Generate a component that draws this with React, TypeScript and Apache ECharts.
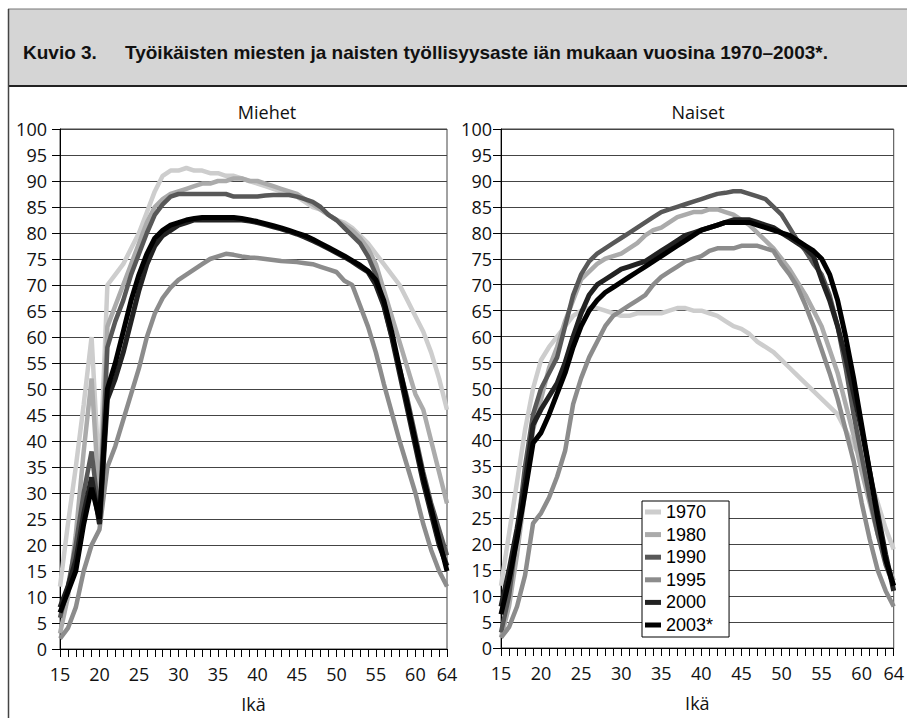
import React, { useEffect, useRef } from "react";
import * as echarts from "echarts";

const ages = [
  "15","16","17","18","19","20","21","22","23","24",
  "25","26","27","28","29","30","31","32","33","34",
  "35","36","37","38","39","40","41","42","43","44",
  "45","46","47","48","49","50","51","52","53","54",
  "55","56","57","58","59","60","61","62","63","64",
];
const years = ["1970", "1980", "1990", "1995", "2000", "2003*"];
const yTicks = [0, 100, 5];

// Miehet (men)
const men1970 = [12,24,35,47,60,32,70,72,74,77, 80,84,88,91,92,92,92.5,92,92,91.5, 91.5,91,91,90.5,90,89.5,89,88.5,88,87.5, 87,86,85,84.5,83.5,82.5,82,81,79.5,78, 76,74,72,70,67,64,61,57,52,46];
const men1980 = [3,10,22,38,52,28,62,66,70,74, 78,82,85,86.5,87.5,88,88.5,89,89.5,89.5, 90,90,90.5,90.5,90,90,89.5,89,88.5,88, 87.5,86.5,85.5,84.5,83.5,82.5,81.5,80.5,79,77, 74,69,64,59,54,49,46,40,34,28];
const men1990 = [6,12,20,30,38,25,58,63,67,72, 76,80,83.5,85.5,87,87.5,87.5,87.5,87.5,87.5, 87.5,87.5,87,87,87,87,87.2,87.3,87.3,87.3, 87,86.5,86,85,83.5,82.5,81,79.5,78,75.5, 72,66,60,54,48,41,34,28,23,18];
const men1995 = [2,4,8,15,20,23,35,39,44,49, 54,60,64.5,67.5,69.5,71,72,73,74,75, 75.5,76,75.8,75.5,75.3,75.2,75,74.8,74.6,74.5, 74.4,74.2,74,73.5,73,72.5,70.8,70,66,62, 57,51,45.5,40,35,30,24,19,15,12];
const men2000 = [8,12,17,26,33,24,48,52,57,63, 69,74,77.5,79.5,80.5,81.5,82,82.5,82.5,82.5, 82.5,82.5,82.5,82.5,82.3,82,81.6,81.2,80.8,80.3, 79.8,79.2,78.5,77.8,77,76.2,75.4,74.5,73.5,72.5, 70,66,60,53,46,39,32,26,20,16];
const men2003 = [7,11,15,24,31,25,50,55,61,67, 72,76,79,80.5,81.5,82,82.5,82.8,83,83, 83,83,83,82.8,82.5,82.2,81.8,81.4,81,80.5, 80,79.5,78.8,78,77.2,76.4,75.6,74.7,73.8,72.7, 71,67,61,54,47,40,33,27,21,15];

// Naiset (women)
const women1970 = [12,22,32,42,50,55.5,58,60,62,64, 65,65.5,65.5,65,64.5,64,64,64.5,64.5,64.5, 64.5,65,65.5,65.5,65,65,64.5,64,63,62, 61.5,60.5,59,58,57,55.5,54,52.5,51,49.5, 48,46.5,45,42,39,36.5,33,28,23,19];
const women1980 = [2,8,18,30,42,48,54,58,63,67, 71,72.5,74,75,75.5,76,77,78,79.5,80.5, 81,82,83,83.5,84,84,84.5,84.5,84,83.5, 82.5,81.5,80,78.5,77,75,73,70.5,68,65, 62,57.5,53,47,41,34,28,22,17,13];
const women1990 = [3,10,22,35,45,50,53,56,62,68, 72,74.5,76,77,78,79,80,81,82,83, 84,84.5,85,85.5,86,86.5,87,87.5,87.7,88, 88,87.5,87,86.5,85,83.5,81,78.5,76.5,74, 72,68,62,54,45,37,29,22,16,12];
const women1995 = [2,4,8,14,24,26,29,33,38,47, 52,56,59,62,64,65,66,67,68,70, 71.5,72.5,73.5,74.5,75,75.5,76.5,77,77,77, 77.5,77.5,77.5,77,76.5,74,72,69.5,66,62, 57.5,53,48,42,36,28,21,15,11,8];
const women2000 = [8,15,23,32,43,46,48.5,51,55,60, 64.5,68,70,71,72,73,73.5,74,74.5,75.5, 76.5,77.5,78.5,79.5,80,80.5,81,81.5,82,82.5, 82.5,82.5,82,81.5,81,80,79,78,77,75.5, 71,67,62,56,49,42,34,26,18,11];
const women2003 = [6.5,13,21,30,39.5,41.5,45,49,53,58, 62,65,67,68.5,69.5,70.5,71.5,72.5,73.5,74.5, 75.5,76.5,77.5,78.5,79.5,80.5,81,81.5,82,82, 82,82,81.5,81,80.5,80,79.5,78.5,77.5,76.5, 75,72,67,60,52,43,34,25,17,12];

const menData = [men1970, men1980, men1990, men1995, men2000, men2003];
const womenData = [women1970, women1980, women1990, women1995, women2000, women2003];

const colors = ["#cdcdcd", "#ababab", "#585858", "#8c8c8c", "#222222", "#000000"];
const widths = [4.5, 4.5, 4.5, 4.5, 5, 5];

const tickFont = "Open Sans";

function makeXAxis(gridIndex: number) {
  return {
    type: "category",
    gridIndex,
    data: ages,
    boundaryGap: false,
    name: "Ikä",
    nameLocation: "middle",
    nameGap: 46,
    nameTextStyle: { fontFamily: tickFont, fontSize: 18, color: "#111" },
    axisLine: { lineStyle: { color: "#000", width: 1 } },
    axisTick: { interval: 0, length: 8, lineStyle: { color: "#000" } },
    axisLabel: {
      interval: (_i: number, v: string) => Number(v) % 5 === 0 || v === "64",
      margin: 16,
      fontFamily: tickFont,
      fontSize: 18,
      color: "#111",
    },
    splitLine: { show: false },
  };
}

function makeYAxis(gridIndex: number, margin: number) {
  return {
    type: "value",
    gridIndex,
    min: yTicks[0],
    max: yTicks[1],
    interval: yTicks[2],
    axisLine: { show: true, lineStyle: { color: "#000", width: 1 } },
    axisTick: { show: true, length: 8, lineStyle: { color: "#000" } },
    axisLabel: { margin, fontFamily: tickFont, fontSize: 18, color: "#111" },
    splitLine: { lineStyle: { color: "#444", width: 1 } },
  };
}

export default function App() {
  const ref = useRef<HTMLDivElement>(null);
  useEffect(() => {
    if (!ref.current) return;
    const chart = echarts.init(ref.current, undefined, { renderer: "svg" });
    const series: any[] = [];
    years.forEach((y, i) => {
      series.push({
        name: y,
        type: "line",
        xAxisIndex: 0,
        yAxisIndex: 0,
        data: menData[i],
        showSymbol: false,
        color: colors[i],
        lineStyle: { color: colors[i], width: widths[i] },
      });
    });
    years.forEach((y, i) => {
      series.push({
        name: y,
        type: "line",
        xAxisIndex: 1,
        yAxisIndex: 1,
        data: womenData[i],
        showSymbol: false,
        color: colors[i],
        lineStyle: { color: colors[i], width: widths[i] },
      });
    });
    chart.setOption({
      animation: false,
      backgroundColor: "#fff",
      title: [
        {
          text: "Miehet",
          left: 262,
          top: 98,
          textAlign: "center",
          textStyle: { fontFamily: tickFont, fontSize: 18, fontWeight: "normal", color: "#111" },
        },
        {
          text: "Naiset",
          left: 693,
          top: 98,
          textAlign: "center",
          textStyle: { fontFamily: tickFont, fontSize: 18, fontWeight: "normal", color: "#111" },
        },
      ],
      grid: [
        { left: 60, top: 129, width: 387, height: 521, show: true, borderColor: "#444", borderWidth: 1 },
        { left: 501, top: 129, width: 395, height: 519, show: true, borderColor: "#444", borderWidth: 1 },
      ],
      xAxis: [makeXAxis(0), makeXAxis(1)],
      yAxis: [makeYAxis(0, 13), makeYAxis(1, 9)],
      legend: {
        data: years,
        orient: "vertical",
        left: 642,
        top: 501,
        backgroundColor: "#fff",
        borderColor: "#000",
        borderWidth: 1,
        padding: [2, 16, 3, 3],
        itemWidth: 16,
        itemHeight: 5,
        itemGap: 4.6,
        icon: "rect",
        textStyle: { fontFamily: "Liberation Sans", fontSize: 18, lineHeight: 18, color: "#000" },
      },
      graphic: [
        { type: "rect", shape: { x: 8, y: 9, width: 905, height: 77 }, style: { fill: "#d5d5d5" }, z: -1 },
        { type: "line", shape: { x1: 8, y1: 9, x2: 907, y2: 9 }, style: { stroke: "#777", lineWidth: 1 } },
        { type: "line", shape: { x1: 8, y1: 86, x2: 907, y2: 86 }, style: { stroke: "#222", lineWidth: 2 } },
        { type: "line", shape: { x1: 8.5, y1: 9, x2: 8.5, y2: 718 }, style: { stroke: "#444", lineWidth: 1.5 } },
        {
          type: "text",
          x: 23,
          y: 52,
          style: {
            text: "Kuvio 3.",
            fontFamily: "Liberation Sans",
            fontWeight: "bold",
            fontSize: 19,
            fill: "#111",
            verticalAlign: "middle",
          },
        },
        {
          type: "text",
          x: 125,
          y: 52,
          style: {
            text: "Työikäisten miesten ja naisten työllisyysaste iän mukaan vuosina 1970–2003*.",
            fontFamily: "Liberation Sans",
            fontWeight: "bold",
            fontSize: 19,
            fill: "#111",
            verticalAlign: "middle",
          },
        },
      ],
      series,
    });
    return () => chart.dispose();
  }, []);
  return (
    <div
      ref={ref}
      style={{ position: "absolute", left: 0, top: 0, width: 907, height: 718 }}
    />
  );
}
